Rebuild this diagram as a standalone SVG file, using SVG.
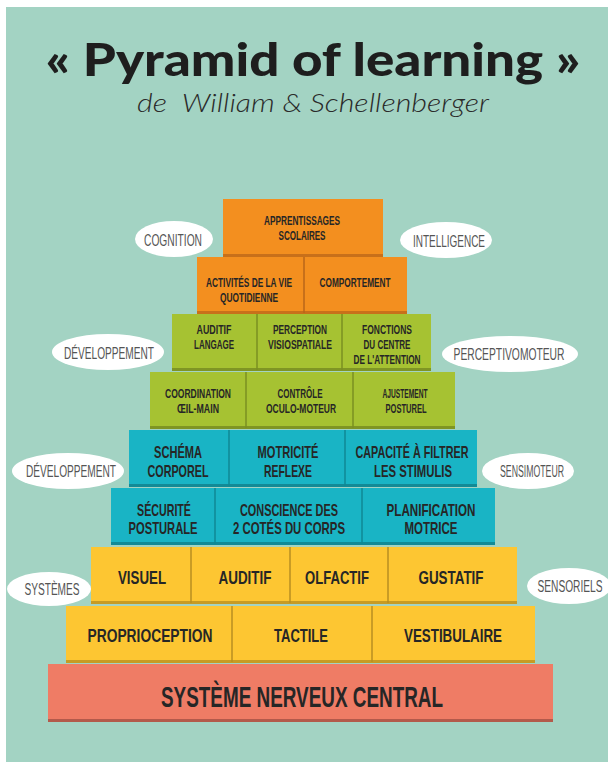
<svg xmlns="http://www.w3.org/2000/svg" width="608" height="762" viewBox="0 0 608 762">
<style>
.bg{fill:#a3d3c3}
.or{fill:#f38f1f}.orE{fill:#c8701a}
.gr{fill:#a6c232}.grE{fill:#7f9524}
.te{fill:#19b4c5}.teE{fill:#128a96}
.ye{fill:#fdc632}.yeE{fill:#c79b24}
.re{fill:#ef7c65}.reE{fill:#b35a4b}
.dv{stroke-width:1.5;fill:none}
.dOr{stroke:#b8661a}.dGr{stroke:#7a8f22}.dTe{stroke:#0f8894}.dYe{stroke:#b78e22}
.t{font-family:"Liberation Sans",Arial,sans-serif;font-weight:bold;fill:#262626;text-anchor:middle}
.s1{font-size:12px}.s2{font-size:16px}.s3{font-size:19px}.s4{font-size:29px}
.bub{fill:#ffffff}
.bt{font-family:"Liberation Sans",Arial,sans-serif;font-size:16px;fill:#555;text-anchor:middle}
</style>
<rect x="0" y="0" width="608" height="762" fill="#ffffff"/>
<rect class="bg" x="6" y="7" width="602" height="755"/>
<g id="title">
<text x="313" y="76" font-family="Lato,'Open Sans',sans-serif" font-weight="900" font-size="46" fill="#1e1e1e" text-anchor="middle" textLength="535" lengthAdjust="spacingAndGlyphs">« Pyramid of learning »</text>
<text x="313" y="112" font-family="Lato,'Open Sans',sans-serif" font-weight="300" font-style="italic" font-size="25" fill="#2a2a2a" text-anchor="middle" textLength="352" lengthAdjust="spacingAndGlyphs" xml:space="preserve">de  William &amp; Schellenberger</text>
</g>
<g id="connectors"/>
<!-- Row 1 -->
<g id="apprentissages">
<rect class="orE" x="223" y="199" width="160" height="58"/>
<rect class="or" x="223" y="199" width="160" height="55"/>
<text class="t s1" transform="translate(302,225) scale(0.7,1)" textLength="108.6" lengthAdjust="spacingAndGlyphs">APPRENTISSAGES</text>
<text class="t s1" transform="translate(302,240) scale(0.7,1)" textLength="67.1" lengthAdjust="spacingAndGlyphs">SCOLAIRES</text>
</g>
<!-- Row 2 -->
<g id="activites">
<rect class="orE" x="197" y="257" width="107" height="57"/>
<rect class="or" x="197" y="257" width="107" height="54"/>
<text class="t s1" transform="translate(249,287) scale(0.7,1)" textLength="122.9" lengthAdjust="spacingAndGlyphs">ACTIVITÉS DE LA VIE</text>
<text class="t s1" transform="translate(249,302) scale(0.7,1)" textLength="82.9" lengthAdjust="spacingAndGlyphs">QUOTIDIENNE</text>
</g>
<g id="comportement">
<rect class="orE" x="304" y="257" width="103" height="57"/>
<rect class="or" x="304" y="257" width="103" height="54"/>
<line class="dv dOr" x1="304" y1="257" x2="304" y2="313"/>
<text class="t s1" transform="translate(355,287) scale(0.7,1)" textLength="101.4" lengthAdjust="spacingAndGlyphs">COMPORTEMENT</text>
</g>
<!-- Row 3 -->
<g id="auditif-langage">
<rect class="grE" x="172" y="314" width="85" height="57"/>
<rect class="gr" x="172" y="314" width="85" height="54"/>
<text class="t s1" transform="translate(214,334) scale(0.7,1)" textLength="50" lengthAdjust="spacingAndGlyphs">AUDITIF</text>
<text class="t s1" transform="translate(214,349) scale(0.7,1)" textLength="57.1" lengthAdjust="spacingAndGlyphs">LANGAGE</text>
</g>
<g id="perception">
<rect class="grE" x="257" y="314" width="85" height="57"/>
<rect class="gr" x="257" y="314" width="85" height="54"/>
<line class="dv dGr" x1="257" y1="314" x2="257" y2="370"/>
<text class="t s1" transform="translate(300,334) scale(0.7,1)" textLength="77.1" lengthAdjust="spacingAndGlyphs">PERCEPTION</text>
<text class="t s1" transform="translate(300,349) scale(0.7,1)" textLength="91.4" lengthAdjust="spacingAndGlyphs">VISIOSPATIALE</text>
</g>
<g id="fonctions">
<rect class="grE" x="342" y="314" width="89" height="57"/>
<rect class="gr" x="342" y="314" width="89" height="54"/>
<line class="dv dGr" x1="342" y1="314" x2="342" y2="370"/>
<text class="t s1" transform="translate(387,334) scale(0.7,1)" textLength="71.4" lengthAdjust="spacingAndGlyphs">FONCTIONS</text>
<text class="t s1" transform="translate(387,349) scale(0.7,1)" textLength="67.1" lengthAdjust="spacingAndGlyphs">DU CENTRE</text>
<text class="t s1" transform="translate(387,364) scale(0.7,1)" textLength="95.7" lengthAdjust="spacingAndGlyphs">DE L'ATTENTION</text>
</g>
<!-- Row 4 -->
<g id="coordination">
<rect class="grE" x="150" y="372" width="96" height="57"/>
<rect class="gr" x="150" y="372" width="96" height="54"/>
<text class="t s1" transform="translate(198,398) scale(0.7,1)" textLength="94.3" lengthAdjust="spacingAndGlyphs">COORDINATION</text>
<text class="t s1" transform="translate(198,413) scale(0.7,1)" textLength="60" lengthAdjust="spacingAndGlyphs">ŒIL-MAIN</text>
</g>
<g id="controle">
<rect class="grE" x="246" y="372" width="107" height="57"/>
<rect class="gr" x="246" y="372" width="107" height="54"/>
<line class="dv dGr" x1="246" y1="372" x2="246" y2="428"/>
<text class="t s1" transform="translate(300,398) scale(0.7,1)" textLength="64.3" lengthAdjust="spacingAndGlyphs">CONTRÔLE</text>
<text class="t s1" transform="translate(301,413) scale(0.7,1)" textLength="100" lengthAdjust="spacingAndGlyphs">OCULO-MOTEUR</text>
</g>
<g id="ajustement">
<rect class="grE" x="353" y="372" width="102" height="57"/>
<rect class="gr" x="353" y="372" width="102" height="54"/>
<line class="dv dGr" x1="353" y1="372" x2="353" y2="428"/>
<text class="t s1" transform="translate(405,398) scale(0.7,1)" textLength="64.3" lengthAdjust="spacingAndGlyphs">AJUSTEMENT</text>
<text class="t s1" transform="translate(406,413) scale(0.7,1)" textLength="58.6" lengthAdjust="spacingAndGlyphs">POSTUREL</text>
</g>
<!-- Row 5 -->
<g id="schema">
<rect class="teE" x="129" y="430" width="100" height="57"/>
<rect class="te" x="129" y="430" width="100" height="54"/>
<text class="t s2" transform="translate(178,458) scale(0.7,1)" textLength="68.6" lengthAdjust="spacingAndGlyphs">SCHÉMA</text>
<text class="t s2" transform="translate(178,477) scale(0.7,1)" textLength="87.1" lengthAdjust="spacingAndGlyphs">CORPOREL</text>
</g>
<g id="motricite">
<rect class="teE" x="229" y="430" width="116" height="57"/>
<rect class="te" x="229" y="430" width="116" height="54"/>
<line class="dv dTe" x1="229" y1="430" x2="229" y2="486"/>
<text class="t s2" transform="translate(288,458) scale(0.7,1)" textLength="87.1" lengthAdjust="spacingAndGlyphs">MOTRICITÉ</text>
<text class="t s2" transform="translate(288,477) scale(0.7,1)" textLength="68.6" lengthAdjust="spacingAndGlyphs">REFLEXE</text>
</g>
<g id="capacite">
<rect class="teE" x="345" y="430" width="132" height="57"/>
<rect class="te" x="345" y="430" width="132" height="54"/>
<line class="dv dTe" x1="345" y1="430" x2="345" y2="486"/>
<text class="t s2" transform="translate(412,458) scale(0.7,1)" textLength="161.4" lengthAdjust="spacingAndGlyphs">CAPACITÉ À FILTRER</text>
<text class="t s2" transform="translate(413,477) scale(0.7,1)" textLength="111.4" lengthAdjust="spacingAndGlyphs">LES STIMULIS</text>
</g>
<!-- Row 6 -->
<g id="securite">
<rect class="teE" x="111" y="488" width="104" height="57"/>
<rect class="te" x="111" y="488" width="104" height="54"/>
<text class="t s2" transform="translate(164,516) scale(0.7,1)" textLength="77.1" lengthAdjust="spacingAndGlyphs">SÉCURITÉ</text>
<text class="t s2" transform="translate(163,534) scale(0.7,1)" textLength="98.6" lengthAdjust="spacingAndGlyphs">POSTURALE</text>
</g>
<g id="conscience">
<rect class="teE" x="215" y="488" width="147" height="57"/>
<rect class="te" x="215" y="488" width="147" height="54"/>
<line class="dv dTe" x1="215" y1="488" x2="215" y2="544"/>
<text class="t s2" transform="translate(289,516) scale(0.7,1)" textLength="140" lengthAdjust="spacingAndGlyphs">CONSCIENCE DES</text>
<text class="t s2" transform="translate(289,534) scale(0.7,1)" textLength="160" lengthAdjust="spacingAndGlyphs">2 COTÉS DU CORPS</text>
</g>
<g id="planification">
<rect class="teE" x="362" y="488" width="133" height="57"/>
<rect class="te" x="362" y="488" width="133" height="54"/>
<line class="dv dTe" x1="362" y1="488" x2="362" y2="544"/>
<text class="t s2" transform="translate(431,516) scale(0.7,1)" textLength="127.1" lengthAdjust="spacingAndGlyphs">PLANIFICATION</text>
<text class="t s2" transform="translate(431,534) scale(0.7,1)" textLength="75.7" lengthAdjust="spacingAndGlyphs">MOTRICE</text>
</g>
<!-- Row 7 -->
<g id="visuel">
<rect class="yeE" x="91" y="547" width="100" height="57"/>
<rect class="ye" x="91" y="547" width="100" height="54"/>
<text class="t s3" transform="translate(142,584) scale(0.7,1)" textLength="68.6" lengthAdjust="spacingAndGlyphs">VISUEL</text>
</g>
<g id="auditif">
<rect class="yeE" x="191" y="547" width="99" height="57"/>
<rect class="ye" x="191" y="547" width="99" height="54"/>
<line class="dv dYe" x1="191" y1="547" x2="191" y2="603"/>
<text class="t s3" transform="translate(245,584) scale(0.7,1)" textLength="75.7" lengthAdjust="spacingAndGlyphs">AUDITIF</text>
</g>
<g id="olfactif">
<rect class="yeE" x="290" y="547" width="98" height="57"/>
<rect class="ye" x="290" y="547" width="98" height="54"/>
<line class="dv dYe" x1="290" y1="547" x2="290" y2="603"/>
<text class="t s3" transform="translate(337,584) scale(0.7,1)" textLength="91.4" lengthAdjust="spacingAndGlyphs">OLFACTIF</text>
</g>
<g id="gustatif">
<rect class="yeE" x="388" y="547" width="129" height="57"/>
<rect class="ye" x="388" y="547" width="129" height="54"/>
<line class="dv dYe" x1="388" y1="547" x2="388" y2="603"/>
<text class="t s3" transform="translate(451,584) scale(0.7,1)" textLength="92.9" lengthAdjust="spacingAndGlyphs">GUSTATIF</text>
</g>
<!-- Row 8 -->
<g id="proprioception">
<rect class="yeE" x="66" y="606" width="166" height="57"/>
<rect class="ye" x="66" y="606" width="166" height="54"/>
<text class="t s3" transform="translate(150,642) scale(0.7,1)" textLength="178.6" lengthAdjust="spacingAndGlyphs">PROPRIOCEPTION</text>
</g>
<g id="tactile">
<rect class="yeE" x="232" y="606" width="140" height="57"/>
<rect class="ye" x="232" y="606" width="140" height="54"/>
<line class="dv dYe" x1="232" y1="606" x2="232" y2="662"/>
<text class="t s3" transform="translate(301,642) scale(0.7,1)" textLength="77.1" lengthAdjust="spacingAndGlyphs">TACTILE</text>
</g>
<g id="vestibulaire">
<rect class="yeE" x="372" y="606" width="163" height="57"/>
<rect class="ye" x="372" y="606" width="163" height="54"/>
<line class="dv dYe" x1="372" y1="606" x2="372" y2="662"/>
<text class="t s3" transform="translate(453,642) scale(0.7,1)" textLength="140" lengthAdjust="spacingAndGlyphs">VESTIBULAIRE</text>
</g>
<!-- Base -->
<g id="snc">
<rect class="reE" x="48" y="664" width="505" height="58"/>
<rect class="re" x="48" y="664" width="505" height="55"/>
<text class="t s4" transform="translate(302,707) scale(0.7,1)" textLength="402.9" lengthAdjust="spacingAndGlyphs">SYSTÈME NERVEUX CENTRAL</text>
</g>
<!-- Side labels -->
<g id="cognition">
<ellipse class="bub" cx="174" cy="239" rx="39" ry="18"/>
<text class="bt" transform="translate(173,246) scale(0.62,1)" textLength="93.5" lengthAdjust="spacingAndGlyphs">COGNITION</text>
</g>
<g id="intelligence">
<ellipse class="bub" cx="446" cy="240" rx="46" ry="18"/>
<text class="bt" transform="translate(449,247) scale(0.62,1)" textLength="116.1" lengthAdjust="spacingAndGlyphs">INTELLIGENCE</text>
</g>
<g id="developpement1">
<ellipse class="bub" cx="108" cy="352" rx="56" ry="18"/>
<text class="bt" transform="translate(109,359) scale(0.62,1)" textLength="145.2" lengthAdjust="spacingAndGlyphs">DÉVELOPPEMENT</text>
</g>
<g id="perceptivomoteur">
<ellipse class="bub" cx="510" cy="354" rx="68" ry="18"/>
<text class="bt" transform="translate(509,360) scale(0.62,1)" textLength="179" lengthAdjust="spacingAndGlyphs">PERCEPTIVOMOTEUR</text>
</g>
<g id="developpement2">
<ellipse class="bub" cx="68" cy="471" rx="56" ry="18"/>
<text class="bt" transform="translate(71,477) scale(0.62,1)" textLength="145.2" lengthAdjust="spacingAndGlyphs">DÉVELOPPEMENT</text>
</g>
<g id="sensimoteur">
<ellipse class="bub" cx="528" cy="471" rx="46" ry="18"/>
<text class="bt" transform="translate(532,477) scale(0.62,1)" textLength="103.2" lengthAdjust="spacingAndGlyphs">SENSIMOTEUR</text>
</g>
<g id="systemes">
<ellipse class="bub" cx="49" cy="589" rx="42" ry="17"/>
<text class="bt" transform="translate(52,595) scale(0.62,1)" textLength="88.7" lengthAdjust="spacingAndGlyphs">SYSTÈMES</text>
</g>
<g id="sensoriels">
<ellipse class="bub" cx="569" cy="586" rx="42" ry="18"/>
<text class="bt" transform="translate(570,592) scale(0.62,1)" textLength="104.8" lengthAdjust="spacingAndGlyphs">SENSORIELS</text>
</g>
</svg>
